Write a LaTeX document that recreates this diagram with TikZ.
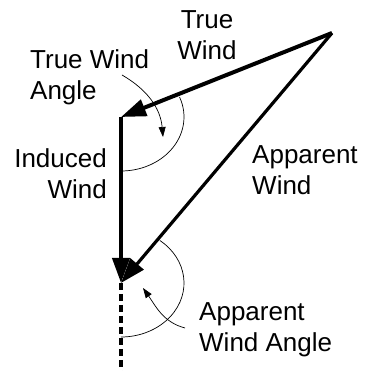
\documentclass[tikz,border=0pt]{standalone}
\usepackage{fontspec}
\setmainfont{Liberation Sans}
\usetikzlibrary{arrows.meta}

\begin{document}
\begin{tikzpicture}[
    x=1pt, y=1pt,
    wind/.style={-{Triangle[length=25pt, width=17pt]}, line width=4pt},
    anglearc/.style={line width=0.7pt},
    anglearrow/.style={-{Triangle[length=10pt, width=7pt]}, line width=0.7pt},
    txt/.style={font=\fontsize{26}{31}\selectfont, inner sep=0pt}
]
    \useasboundingbox (0,0) rectangle (364,371);

    \coordinate (source) at (332,338);
    \coordinate (boat) at (121,254);
    \coordinate (course) at (121,88);
    \coordinate (wake) at (121,0);

    \draw[wind] (source) -- (boat);
    \draw[wind] (boat) -- (course);
    \draw[wind, line width=3.2pt] (source) -- (course);
    \draw[line width=4pt, dash pattern=on 7pt off 4pt] (course) -- (wake);

    % angle arcs
    \draw[anglearc] (boat) ++(21.7:63 and 54) arc[start angle=21.7, end angle=-90, x radius=63, y radius=54];
    \draw[anglearc] (course) ++(52:63 and 54) arc[start angle=52, end angle=-90, x radius=63, y radius=54];

    \coordinate (twastart) at (122,296);
    \coordinate (twaend) at (163,234);
    \coordinate (awastart) at (185,43);
    \coordinate (awaend) at (143,83);
    \draw[anglearrow] (twastart) to[out=-30, in=95] (twaend);
    \draw[anglearrow] (awastart) to[out=165, in=-55] (awaend);

    \node[txt, anchor=north, align=center] (truewind) at (207,361) {True\\Wind};
    \node[txt, anchor=north west, align=left] (twa) at (30,322) {True Wind\\Angle};
    \node[txt, anchor=north east, align=right] (induced) at (107,223) {Induced\\Wind};
    \node[txt, anchor=north west, align=left] (apparent) at (252,226) {Apparent\\Wind};
    \node[txt, anchor=north west, align=left] (awa) at (199,69) {Apparent\\Wind Angle};
\end{tikzpicture}
\end{document}
